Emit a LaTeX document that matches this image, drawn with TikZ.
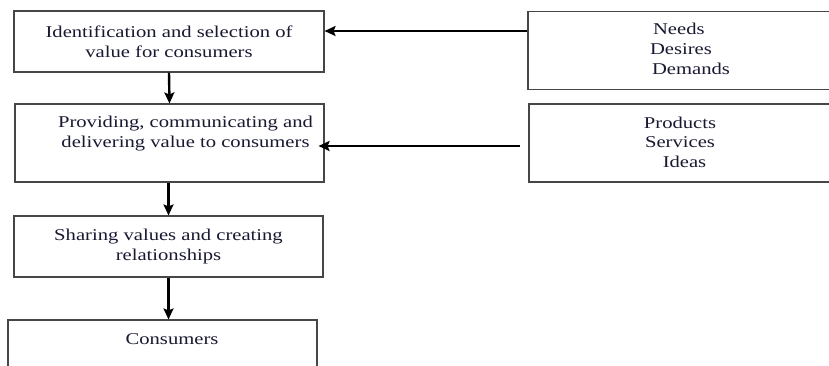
\documentclass[tikz,border=0pt]{standalone}
\usepackage{fontspec}
\setmainfont{Liberation Serif}[FakeStretch=1.25]
\usetikzlibrary{arrows.meta}
\definecolor{inkblue}{RGB}{25,25,50}
\definecolor{edgegray}{RGB}{70,70,70}
\tikzset{
  box/.style={draw=edgegray, line width=1.1pt, inner sep=0, fill=white},
  txt/.style={text=inkblue, align=center, inner sep=0,
    font=\fontsize{16.5}{20}\selectfont},
  flow/.style={line width=2.4pt, -{Stealth[length=11pt,width=10pt,inset=2pt]}}
}
\begin{document}
\begin{tikzpicture}[x=1pt,y=-1pt]
\clip (0,0) rectangle (829,365);
\fill[white] (0,0) rectangle (829,365);

\node[box, minimum width=310, minimum height=61] (ident) at (169,41.5) {};
\node[txt] at (ident.center) {Identification and selection of\\value for consumers};
\node[box, minimum width=309, minimum height=78] (provide) at (169.5,143) {};
\node[txt] at ([xshift=16pt,yshift=9pt]provide.center) {Providing, communicating and\\delivering value to consumers};
\node[box, minimum width=309, minimum height=61] (share) at (168.5,246.5) {};
\node[txt] at (share.center) {Sharing values and creating\\relationships};
\node[box, minimum width=309, minimum height=70] (consumers) at (162.5,355) {};
\node[txt] at (172,339) {Consumers};

\node[box, minimum width=312, minimum height=78] (needs) at (684,50.5) {};
\node[txt, align=left] at (690,49) {\hspace{3pt}Needs\\Desires\\\hspace{2pt}Demands};
\node[box, minimum width=311, minimum height=78] (products) at (684.5,143) {};
\node[txt, font=\fontsize{16.5}{19.5}\selectfont] at (680,142) {Products\\Services\\\hspace{9pt}Ideas};

\draw[flow] (ident.south) -- (provide.north);
\draw[flow] (provide.south -| share.south) -- (share.north);
\draw[flow] (share.south) -- (share.south |- consumers.north);
\draw[flow] (needs.west |- 0,31) -- (ident.east |- 0,31);
\draw[flow, shorten <=8pt, shorten >=-6pt] (products.west |- 0,146) -- (provide.east |- 0,146);
\end{tikzpicture}
\end{document}
